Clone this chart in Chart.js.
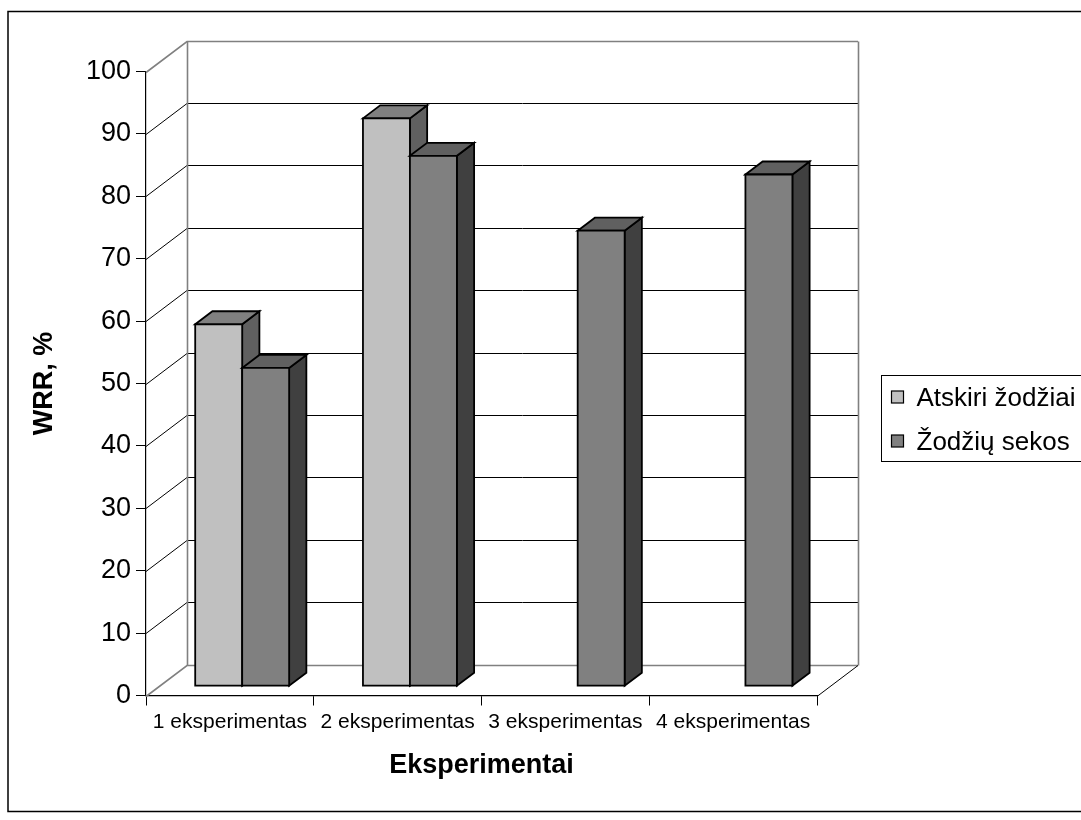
<!DOCTYPE html>
<html>
<head>
<meta charset="utf-8">
<title>WRR, %</title>
<script src="https://cdn.jsdelivr.net/npm/chart.js@4.4.1/dist/chart.umd.min.js"></script>
<style>
  html, body { margin: 0; padding: 0; background: #ffffff; }
  #wrap { width: 1081px; height: 820px; }
</style>
</head>
<body>
<div id="wrap"><canvas id="c" width="1081" height="820"></canvas></div>
<script>
// Experiment names along the x axis
const categories = ['1 eksperimentas', '2 eksperimentas', '3 eksperimentas', '4 eksperimentas'];
// Series names shown in the legend
const seriesNames = ['Atskiri žodžiai', 'Žodžių sekos'];
// WRR values, %
const atskiriZodziai = [58, 91, null, null];
const zodziuSekos = [51, 85, 73, 82];
// Value axis ticks
const yTickValues = [0, 10, 20, 30, 40, 50, 60, 70, 80, 90, 100];

const FONT = '"Liberation Sans", Arial, Helvetica, sans-serif';

// Depth of the pseudo-3D plot box and where the columns sit inside it
const DEPTH = { x: 41, y: -31 };
const BAR_FRONT = 0.3;
const BAR_BACK = 0.72;

function poly(ctx, pts, fill) {
  ctx.beginPath();
  ctx.moveTo(pts[0][0], pts[0][1]);
  for (let k = 1; k < pts.length; k++) ctx.lineTo(pts[k][0], pts[k][1]);
  ctx.closePath();
  ctx.fillStyle = fill;
  ctx.fill();
  ctx.stroke();
}

const box3d = {
  id: 'box3d',
  beforeDatasetsDraw(chart) {
    const { ctx, chartArea: a, scales: { x, y } } = chart;
    const dx = DEPTH.x, dy = DEPTH.y;
    ctx.save();
    ctx.lineJoin = 'miter';

    // side wall diagonals and back wall gridlines
    yTickValues.forEach(v => {
      const py = Math.round(y.getPixelForValue(v)) + 0.5;
      const edge = (v === y.min || v === y.max);
      ctx.strokeStyle = edge ? '#808080' : '#000000';
      ctx.lineWidth = edge ? 1.6 : 1;
      ctx.beginPath();
      ctx.moveTo(a.left, py);
      ctx.lineTo(a.left + dx, py + dy);
      ctx.lineTo(a.right + dx, py + dy);
      ctx.stroke();
    });

    // wall corner edges
    const yTop = Math.round(y.getPixelForValue(y.max)) + 0.5;
    const yBot = Math.round(y.getPixelForValue(y.min)) + 0.5;
    ctx.strokeStyle = '#808080';
    ctx.lineWidth = 1.6;
    ctx.beginPath();
    ctx.moveTo(Math.round(a.left + dx) + 0.5, yTop + dy);
    ctx.lineTo(Math.round(a.left + dx) + 0.5, yBot + dy);
    ctx.moveTo(Math.round(a.right + dx) + 0.5, yTop + dy);
    ctx.lineTo(Math.round(a.right + dx) + 0.5, yBot + dy);
    ctx.stroke();

    // right edge of the floor
    ctx.strokeStyle = '#000000';
    ctx.lineWidth = 1;
    ctx.beginPath();
    ctx.moveTo(a.right, yBot);
    ctx.lineTo(a.right + dx, yBot + dy);
    ctx.stroke();

    // columns, drawn left to right so nearer faces overlap correctly
    const metas = chart.getSortedVisibleDatasetMetas();
    const fx = dx * BAR_FRONT, fy = dy * BAR_FRONT;
    const ox = dx * (BAR_BACK - BAR_FRONT), oy = dy * (BAR_BACK - BAR_FRONT);
    ctx.strokeStyle = '#000000';
    ctx.lineWidth = 1.8;
    for (let i = 0; i < categories.length; i++) {
      metas.forEach(meta => {
        const ds = chart.data.datasets[meta.index];
        const val = ds.data[i];
        if (val === null || val === undefined) return;
        const el = meta.data[i];
        const p = el.getProps(['x', 'y', 'base', 'width'], true);
        const l = p.x - p.width / 2 + fx, r = p.x + p.width / 2 + fx;
        const t = p.y + fy, b = p.base + fy;
        poly(ctx, [[r, t], [r + ox, t + oy], [r + ox, b + oy], [r, b]], ds.sideColor);
        poly(ctx, [[l, t], [l + ox, t + oy], [r + ox, t + oy], [r, t]], ds.topColor);
        poly(ctx, [[l, t], [r, t], [r, b], [l, b]], ds.backgroundColor);
      });
    }
    ctx.restore();
    return false;
  },
  afterDraw(chart) {
    const { ctx } = chart;
    ctx.save();
    // outer frame
    ctx.strokeStyle = '#000000';
    ctx.lineWidth = 1.5;
    ctx.strokeRect(8, 11.5, 1100, 800);

    // legend
    const lx = 881.5, ly = 375.5, lh = 86;
    ctx.lineWidth = 1;
    ctx.strokeRect(lx, ly, 240, lh);
    ctx.font = '26px ' + FONT;
    ctx.textBaseline = 'middle';
    ctx.textAlign = 'left';
    chart.data.datasets.forEach((ds, k) => {
      const cy = ly + 22 + k * 44;
      ctx.fillStyle = ds.backgroundColor;
      ctx.fillRect(lx + 10, cy - 6.5, 12, 12);
      ctx.strokeStyle = '#000000';
      ctx.lineWidth = 1.2;
      ctx.strokeRect(lx + 10, cy - 6.5, 12, 12);
      ctx.fillStyle = '#000000';
      ctx.fillText(ds.label, lx + 35, cy + 1);
    });
    ctx.restore();
  }
};

new Chart(document.getElementById('c'), {
  type: 'bar',
  data: {
    labels: categories,
    datasets: [
      { label: seriesNames[0], data: atskiriZodziai, backgroundColor: '#c0c0c0', topColor: '#808080', sideColor: '#606060' },
      { label: seriesNames[1], data: zodziuSekos, backgroundColor: '#808080', topColor: '#606060', sideColor: '#404040' }
    ]
  },
  options: {
    responsive: false,
    animation: false,
    devicePixelRatio: 1,
    layout: { padding: { top: 71.5, right: 264, bottom: 0, left: 0 } },
    datasets: { bar: { categoryPercentage: 0.56, barPercentage: 1 } },
    plugins: { legend: { display: false }, tooltip: { enabled: false } },
    scales: {
      x: {
        offset: true,
        grid: { offset: true, drawOnChartArea: false, drawTicks: true, tickLength: 10, color: '#000000', lineWidth: 1 },
        border: { display: true, color: '#000000', width: 1.2 },
        ticks: { color: '#000000', font: { family: FONT, size: 21 }, padding: 4, maxRotation: 0, autoSkip: false },
        title: { display: true, text: 'Eksperimentai', color: '#000000', font: { family: FONT, size: 27, weight: 'bold' }, padding: { top: 0, bottom: 38 } },
        afterFit(scale) { scale.height = 124.5; }
      },
      y: {
        min: 0,
        max: 100,
        afterBuildTicks(scale) { scale.ticks = yTickValues.map(v => ({ value: v })); },
        grid: { drawOnChartArea: false, drawTicks: true, tickLength: 10, color: '#000000', lineWidth: 1 },
        border: { display: true, color: '#000000', width: 1.2 },
        ticks: { color: '#000000', font: { family: FONT, size: 27 }, padding: 5 },
        title: { display: true, text: 'WRR, %', color: '#000000', font: { family: FONT, size: 27, weight: 'bold' }, padding: { top: 28, bottom: 0 } },
        afterFit(scale) { scale.width = 146; }
      }
    }
  },
  plugins: [box3d]
});
</script>
</body>
</html>
